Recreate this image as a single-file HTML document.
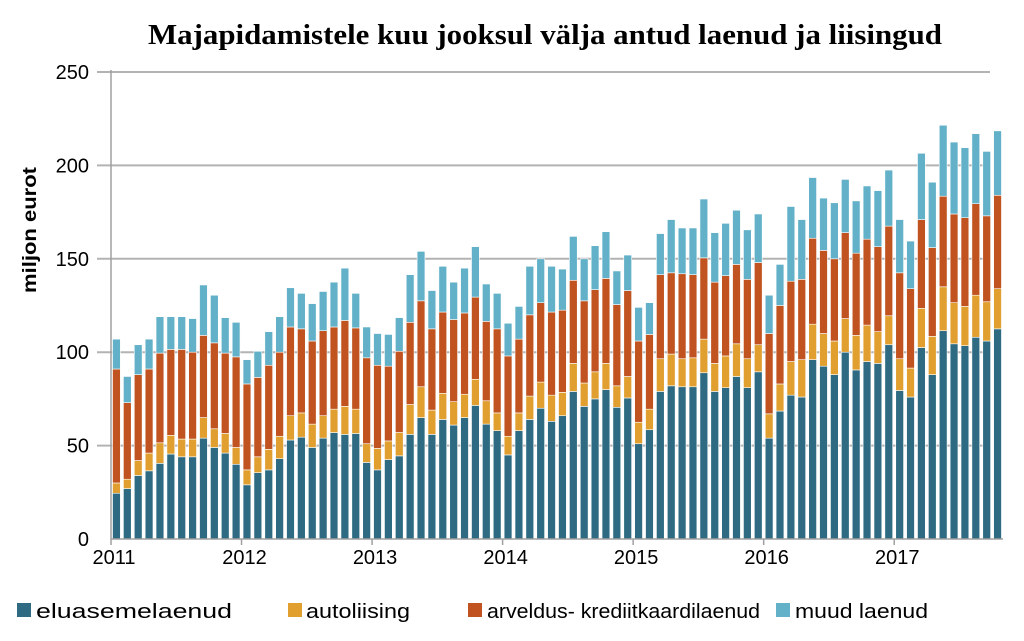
<!DOCTYPE html>
<html><head><meta charset="utf-8"><style>
body{margin:0;background:#fff;width:1024px;height:641px;overflow:hidden;font-family:"Liberation Sans",sans-serif}
svg{display:block}
</style></head><body>
<svg id="chart" width="1024" height="641" viewBox="0 0 1024 641">
<text x="545" y="44" text-anchor="middle" font-family="Liberation Serif, serif" font-weight="bold" font-size="28" textLength="794" lengthAdjust="spacingAndGlyphs">Majapidamistele kuu jooksul välja antud laenud ja liisingud</text>
<text transform="translate(36,230) rotate(-90)" text-anchor="middle" font-weight="bold" font-size="19" textLength="126" lengthAdjust="spacingAndGlyphs">miljon eurot</text>
<g id="grid"></g>
<g id="bars"></g>
<g id="axes"></g>
<g font-size="20">
 <rect x="17" y="603" width="14" height="14" fill="#2e6b82"/>
 <text x="36" y="618" textLength="196" lengthAdjust="spacingAndGlyphs">eluasemelaenud</text>
 <rect x="288" y="603" width="14" height="14" fill="#e09f2f"/>
 <text x="306" y="618" textLength="104" lengthAdjust="spacingAndGlyphs">autoliising</text>
 <rect x="468" y="603" width="14" height="14" fill="#c0531f"/>
 <text x="487" y="618" textLength="273" lengthAdjust="spacingAndGlyphs">arveldus- krediitkaardilaenud</text>
 <rect x="776" y="603" width="14" height="14" fill="#63b1c9"/>
 <text x="795" y="618" textLength="133" lengthAdjust="spacingAndGlyphs">muud laenud</text>
</g>
</svg>
<script>
const years = ["2011","2012","2013","2014","2015","2016","2017"];
const yTicks = [0,50,100,150,200,250];
const eluasemelaenud = [24.5,27,34,36.5,40.5,45.5,44,44,54,49,46,40,29,35.5,37,43,53,54.5,49,54,57,56,56.5,41,37,42.5,44.5,56,65,56,64,61,65,71.5,61.5,58,45,58,64,70,63,66,79,71,75,80,70.5,75.5,51,58.5,79,82,81.5,81.5,89,79,81,87,81,89.5,54,68.5,77,76,96,92.5,88,100,90.5,95,94,104,79.5,76,102.5,88,111.5,104.5,103.5,108,106,112.5];
const autoliising = [5.5,5,8,9.5,11,10,9.5,9.5,11,10,10.5,9,8,8.5,11,12,13,13,12.5,12,12.5,15,13,10,11.5,10,12.5,16,16.5,13,14,12.5,12.5,14,12.5,9.5,10,9.5,12.5,14,14,12.5,15,12.5,14.5,14,11.5,11.5,11.5,11,17.5,17,15,15.5,18,15,17,17.5,15.5,14.5,13,14.5,18,20,19,17.5,18,18,18.5,19.5,17,15.5,17,15.5,21,20.5,23.5,22,21,22.5,21,21.5];
const arveldus = [61,41,46,45,48,46,48,46.5,44,46,43,48.5,46,42.5,45,45,47.5,45,44.5,45.5,44,46,43.5,46,44.5,40,43.5,44,46,43.5,43.5,44,43.5,44,42.5,45,43,39.5,43.5,42.5,44.5,44,44.5,44,44,45.5,43.5,46,43.5,40,45,43.5,45.5,44.5,43.5,43.5,43,42.5,42.5,44,43,42,43,43,46,44.5,44,46,44,46,45.5,48,46,42.5,47.5,47.5,48.5,47.5,47.5,49,46,50];
const muud = [16,14,16,16,19.5,17.5,17.5,18,27,25.5,19,18.5,13,14,18,19,21,19,20,21,24,28,18.5,16.5,17,17,18,25.5,26.5,20.5,24.5,20,24,27,20,19,17.5,17.5,26,23.5,24.5,22,23.5,22.5,23.5,25,18,19,18,17,22,28.5,24.5,25,31.5,26.5,28,29,26.5,26,20.5,22,40,32,32.5,28,30,28.5,28,28.5,30,30,28.5,25.5,35.5,35,38,38.5,37.5,37.5,34.5,34.5];
const seriesList = [
 {name:"eluasemelaenud", vals:eluasemelaenud, color:"#2e6b82"},
 {name:"autoliising", vals:autoliising, color:"#e09f2f"},
 {name:"arveldus", vals:arveldus, color:"#c0531f"},
 {name:"muud", vals:muud, color:"#63b1c9"}
];
const NS="http://www.w3.org/2000/svg";
const x0=111, x1=1003, y0=539, yTop=72, yMax=250;
const n = eluasemelaenud.length;
const slot=(x1-x0)/n, bw=slot*0.72;
function yScale(v){return y0-(v/yMax)*(y0-yTop);}
function xScale(i){return x0+i*slot;}
function mk(tag,attrs,parent){const e=document.createElementNS(NS,tag);for(const k in attrs)e.setAttribute(k,attrs[k]);parent.appendChild(e);return e;}
const grid=document.getElementById('grid'), bars=document.getElementById('bars'), axes=document.getElementById('axes');
yTicks.forEach(t=>{
 if(t>0){const l=mk('line',{x1:97,x2:990,y1:yScale(t),y2:yScale(t),stroke:'#b3b3b3','stroke-width':2},grid);
 
 }
 const tx=mk('text',{x:89,y:yScale(t)+7,'text-anchor':'end','font-size':20},axes);
 tx.textContent=t;
 
 
});
for(let i=0;i<n;i++){
 let cum=0;
 seriesList.forEach(s=>{
  const v=s.vals[i];
  const r=mk('rect',{x:xScale(i)+(slot-bw)/2,y:yScale(cum+v),width:bw,height:yScale(cum)-yScale(cum+v),fill:s.color,stroke:'#fff','stroke-width':0.6},bars);
  
  
  cum+=v;
 });
}
const ax=mk('line',{x1:x0,x2:x0,y1:yTop-2,y2:y0,stroke:'#a0a0a0','stroke-width':1.5},axes);


const bx=mk('line',{x1:x0,x2:x1,y1:y0,y2:y0,stroke:'#a0a0a0','stroke-width':1.5},axes);


years.forEach((yr,k)=>{
 const xx=xScale(k*12);
 const tk=mk('line',{x1:xx,x2:xx,y1:y0,y2:y0+6,stroke:'#a0a0a0','stroke-width':1.5},axes);
 
 
 const t=mk('text',{x:xx+3,y:y0+25,'text-anchor':'middle','font-size':20},axes);
 t.textContent=yr;
 
 
});
</script>
</body></html>
